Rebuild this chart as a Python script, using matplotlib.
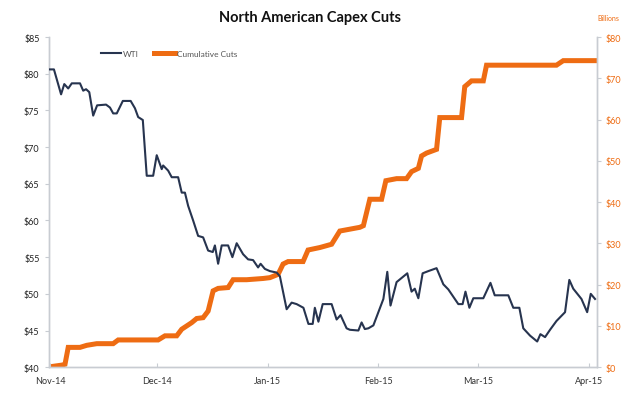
import matplotlib.pyplot as plt
import matplotlib.dates as mdates
import pandas as pd

plt.rcParams['font.family'] = ['Lato', 'DejaVu Sans']

start = pd.Timestamp("2014-11-01")

# WTI price, days since Nov 1 2014
wti_day = [0.0, 1.1, 3.1, 4.0, 5.1, 6.1, 8.4, 9.3, 10.1, 11.0, 12.1, 13.2, 15.7, 16.8,
           17.7, 18.7, 20.4, 22.6, 23.8, 24.7, 26.0, 27.1, 28.9, 29.9, 31.3, 31.7, 33.1,
           34.1, 35.9, 36.9, 37.8, 38.7, 40.1, 41.5, 42.9, 44.3, 45.6, 46.2, 47.1, 48.1,
           49.9, 51.1, 52.3, 54.1, 55.5, 56.9, 58.3, 59.0, 60.2, 61.6, 63.5, 64.4, 66.3,
           67.7, 69.1, 71.0, 72.4, 73.6, 74.2, 75.2, 76.4, 78.9, 80.3, 81.4, 83.1, 84.0,
           86.4, 87.3, 88.2, 89.2, 90.6, 93.4, 94.5, 95.4, 97.1, 100.1, 101.3, 102.2,
           103.2, 104.4, 106.0, 108.3, 110.2, 111.6, 114.4, 115.6, 116.4, 117.5, 118.6,
           121.4, 123.4, 124.6, 128.4, 129.8, 131.5, 132.6, 134.5, 136.5, 137.4, 138.7,
           140.1, 141.9, 144.3, 145.5, 146.6, 148.9, 150.5, 151.5, 152.7]
wti_price = [80.6, 80.6, 77.2, 78.6, 78.0, 78.7, 78.7, 77.7, 77.9, 77.5, 74.3, 75.7, 75.8, 75.4,
             74.6, 74.6, 76.3, 76.3, 75.3, 74.1, 73.7, 66.1, 66.1, 68.9, 67.0, 67.5, 66.8,
             65.9, 65.9, 63.8, 63.8, 62.0, 60.0, 57.9, 57.7, 55.9, 55.7, 56.6, 54.1, 56.6,
             56.6, 55.0, 56.9, 55.4, 54.7, 54.6, 53.6, 54.1, 53.4, 53.1, 52.9, 52.4, 47.9,
             48.8, 48.6, 48.1, 45.9, 45.9, 48.1, 46.2, 48.6, 48.6, 46.5, 47.1, 45.3, 45.1,
             45.0, 46.1, 45.2, 45.3, 45.7, 49.3, 53.0, 48.4, 51.6, 52.8, 50.3, 50.7,
             49.4, 52.8, 53.1, 53.5, 51.3, 50.6, 48.6, 48.6, 50.3, 48.1, 49.4,
             49.4, 51.5, 49.8, 49.8, 48.1, 48.1, 45.3, 44.3, 43.5, 44.5, 44.1,
             45.1, 46.3, 47.5, 51.9, 50.7, 49.3, 47.5, 50.0, 49.3]

# cumulative capex cuts, $ billions
cuts_day = [0.0, 3.3, 4.2, 5.1, 8.4, 10.3, 13.1, 17.7, 19.1, 30.3, 32.2, 35.5, 36.9, 39.7,
            41.1, 42.9, 44.3, 45.7, 47.1, 49.9, 51.3, 55.1, 59.7, 61.6, 63.9, 65.3, 66.7,
            70.9, 72.3, 75.6, 78.9, 81.2, 86.8, 87.8, 89.6, 92.9, 94.1, 97.1, 99.9, 101.3,
            103.2, 104.1, 105.5, 108.3, 109.2, 115.3, 116.2, 118.1, 121.4, 122.3, 141.9,
            143.8, 152.7]
cuts_bn = [0.1, 0.5, 0.7, 4.8, 4.8, 5.3, 5.7, 5.7, 6.6, 6.6, 7.6, 7.6, 9.2, 10.8,
           11.8, 12.0, 13.6, 18.5, 19.1, 19.3, 21.2, 21.2, 21.5, 21.7, 22.5, 25.0, 25.6,
           25.6, 28.4, 29.0, 29.8, 33.0, 33.9, 34.3, 40.7, 40.7, 45.2, 45.7, 45.7, 47.4,
           48.2, 51.2, 51.9, 52.8, 60.5, 60.5, 68.0, 69.4, 69.4, 73.2, 73.2,
           74.3, 74.3]

left_ticks = list(range(40, 90, 5))
right_ticks = list(range(0, 90, 10))

navy = "#27344f"
orange = "#ee6c13"
axis_grey = "#c8ccd2"

wti_dates = start + pd.to_timedelta(wti_day, unit="D")
cuts_dates = start + pd.to_timedelta(cuts_day, unit="D")

fig = plt.figure(figsize=(6.24, 4.10), dpi=100)
ax = fig.add_axes([0.079, 0.102, 0.878, 0.805])
ax2 = ax.twinx()

l1, = ax.plot(wti_dates, wti_price, color=navy, lw=1.5, label="WTI", zorder=3)
l2, = ax2.plot(cuts_dates, cuts_bn, color=orange, lw=3.6, label="Cumulative Cuts",
               solid_joinstyle="miter")
ax.set_zorder(ax2.get_zorder() + 1)
ax.patch.set_visible(False)

ax.set_ylim(40, 85)
ax2.set_ylim(0, 80)
ax.set_yticks(left_ticks, [f"${v}" for v in left_ticks])
ax2.set_yticks(right_ticks, [f"${v}" for v in right_ticks])
ax.set_xlim(start - pd.Timedelta(days=0.2), start + pd.Timedelta(days=153.3))
ax.xaxis.set_major_locator(mdates.MonthLocator())
ax.xaxis.set_major_formatter(mdates.DateFormatter("%b-%y"))

for a in (ax, ax2):
    a.spines["top"].set_visible(False)
    for s in ("left", "right", "bottom"):
        a.spines[s].set_color(axis_grey)
        a.spines[s].set_linewidth(1.0)
ax.tick_params(axis="y", labelsize=6.5, colors="#222222", length=3, width=0.8, pad=4)
ax.tick_params(axis="y", which="both", color=axis_grey)
ax.tick_params(axis="x", labelsize=6.5, labelcolor="#333333", color=axis_grey, direction="in",
               length=3, pad=6)
ax2.tick_params(axis="y", labelsize=6.5, labelcolor=orange, color=axis_grey, length=3, pad=3)

fig.text(0.497, 0.955, "North American Capex Cuts", ha="center", va="center",
         fontsize=10.5, fontweight="bold", color="#111111")
fig.text(0.975, 0.955, "Billions", ha="center", va="center", fontsize=5, color=orange)

ax.legend(handles=[l1, l2], loc="upper left", bbox_to_anchor=(0.08, 0.985), ncol=2,
          frameon=False, fontsize=6, labelcolor="#555555", handlelength=2.5,
          handletextpad=0.2, columnspacing=1.8)

fig.savefig("out.png", dpi=100)
